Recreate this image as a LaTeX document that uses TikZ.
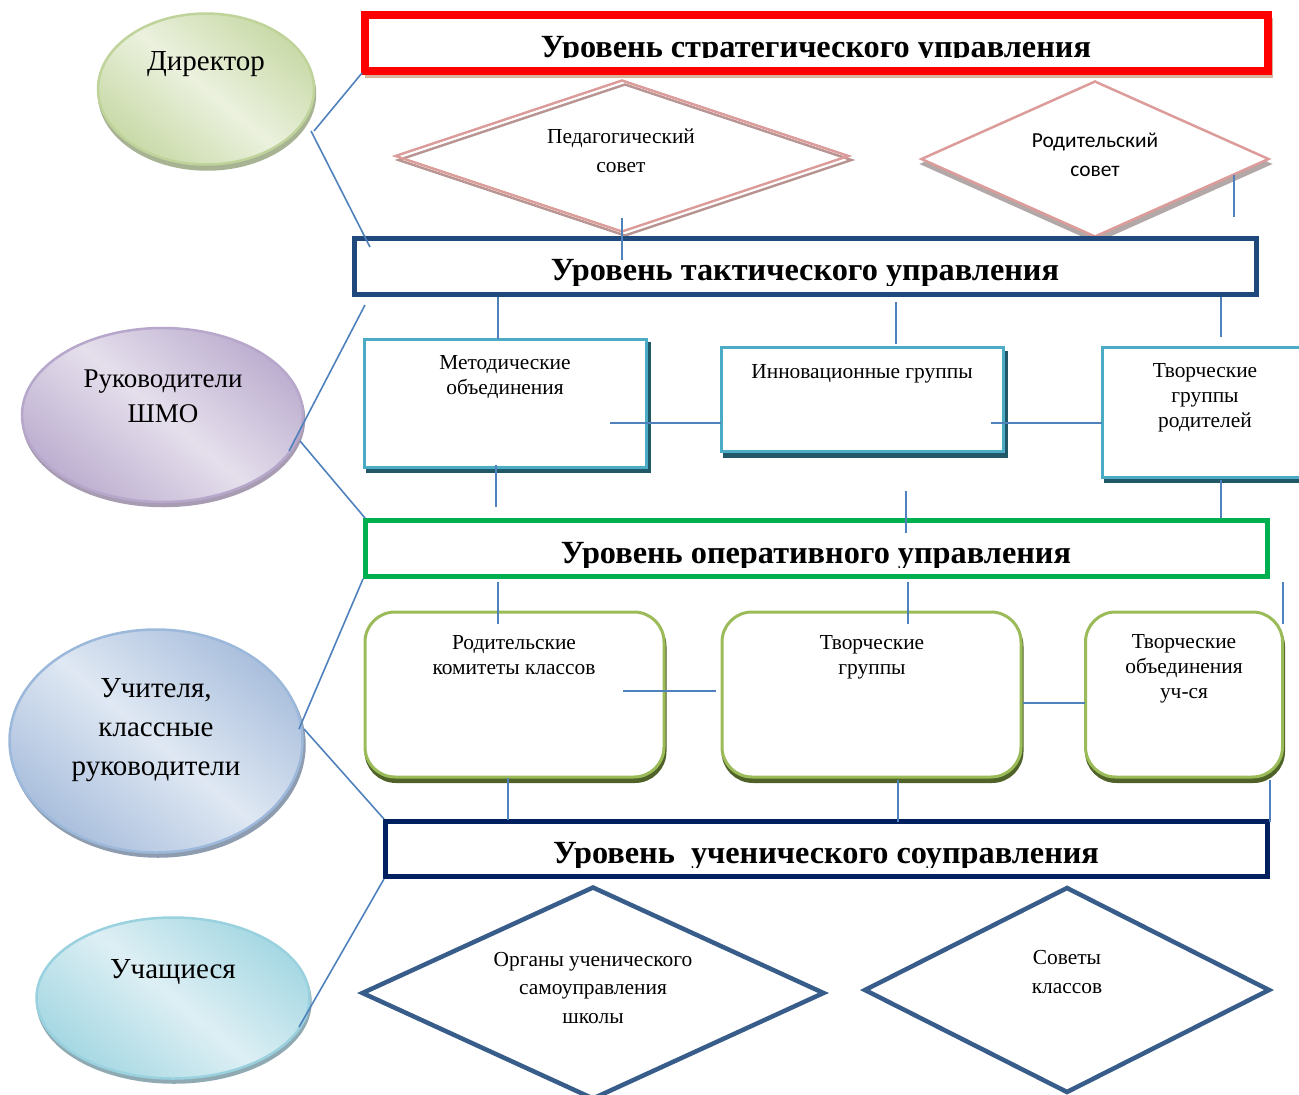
\documentclass[tikz,border=0pt]{standalone}
\usepackage{fontspec}
\setmainfont{Liberation Serif}
\newfontfamily\calibrifont{Carlito}
\usetikzlibrary{shapes.geometric}
\definecolor{linkblue}{HTML}{4F81BD}
\definecolor{tealline}{HTML}{4BACC6}
\definecolor{tealdark}{HTML}{215868}
\definecolor{greenline}{HTML}{9BBB59}
\definecolor{greendark}{HTML}{4F6228}
\definecolor{pinkline}{HTML}{DB9C9A}
\definecolor{rosegrey}{HTML}{B89492}
\definecolor{navydiamond}{HTML}{385D8A}
\definecolor{tacticalblue}{HTML}{1F497D}
\definecolor{opgreen}{HTML}{00B050}
\definecolor{navybar}{HTML}{002060}
\definecolor{tanshadow}{HTML}{D8B49C}
\definecolor{g1b}{HTML}{BFD39A}\definecolor{g1d}{HTML}{C9DAA8}\definecolor{g1l}{HTML}{EBF1DE}\definecolor{g1s}{HTML}{A8B394}
\definecolor{p1b}{HTML}{B7A7CB}\definecolor{p1d}{HTML}{BDAFD0}\definecolor{p1l}{HTML}{E5DFEC}\definecolor{p1s}{HTML}{A79CB2}
\definecolor{b1b}{HTML}{9CB8DA}\definecolor{b1d}{HTML}{AABFDD}\definecolor{b1l}{HTML}{DFE8F3}\definecolor{b1s}{HTML}{8E9CB0}
\definecolor{t1b}{HTML}{9AD1DF}\definecolor{t1d}{HTML}{A6D8E3}\definecolor{t1l}{HTML}{DDEFF4}\definecolor{t1s}{HTML}{8FAAB2}
\definecolor{pardshadow}{HTML}{B3A8A8}
\tikzset{
  x=1pt,y=-1pt,
  every node/.style={inner sep=0pt,outer sep=0pt,align=center,text=black},
  link/.style={draw=linkblue,line width=1.6pt},
  level/.style={draw=#1,line width=5pt,fill=white,shape=rectangle},
  title/.style={font=\fontsize{32.3}{36}\selectfont\bfseries},
  oval/.style={shape=ellipse},
  ovaltext/.style={font=\fontsize{29}{39}\selectfont},
  small/.style={font=\fontsize{21.4}{25}\selectfont},
  tealbox/.style={draw=tealline,line width=3pt,fill=white,shape=rectangle},
  tealshadow/.style={draw=tealdark,line width=3pt,fill=tealdark,shape=rectangle},
  greenbox/.style={draw=greenline,line width=3pt,fill=white,shape=rectangle,rounded corners=30pt},
  greenshadow/.style={draw=greendark,line width=3pt,fill=greendark,shape=rectangle,rounded corners=30pt},
  dia/.style={shape=diamond,fill=white},
  grad/.style n args={3}{shape=ellipse,draw=#1,line width=2.5pt,bottom color=#2,top color=#2,middle color=#3,shading angle=-40},
}
\begin{document}
\begin{tikzpicture}
\useasboundingbox (0,0) rectangle (1299,1095);
\clip (0,0) rectangle (1299,1095);
% ovals
\node[oval,draw=g1s,line width=2.5pt,fill=g1s,minimum width=216pt,minimum height=151pt] (s1) at (207,94) {};
\node[grad={g1b}{g1d}{g1l},minimum width=216pt,minimum height=151pt] (dir) at (206,89) {};
\node[ovaltext] (dirt) at (206,64) {Директор};
\node[oval,draw=p1s,line width=2.5pt,fill=p1s,minimum width=281pt,minimum height=174pt] (s2) at (163.5,419) {};
\node[grad={p1b}{p1d}{p1l},minimum width=281pt,minimum height=174pt] (ruk) at (162.5,415) {};
\node[font=\fontsize{27}{35}\selectfont] (rukt) at (163,396) {Руководители\\ШМО};
\node[oval,draw=b1s,line width=2.5pt,fill=b1s,minimum width=293pt,minimum height=223pt] (s3) at (158,745) {};
\node[grad={b1b}{b1d}{b1l},minimum width=293pt,minimum height=223pt] (uch) at (156,741) {};
\node[ovaltext] (ucht) at (156,730) {Учителя,\\классные\\руководители};
\node[oval,draw=t1s,line width=2.5pt,fill=t1s,minimum width=273pt,minimum height=161pt] (s4) at (174,1002) {};
\node[grad={t1b}{t1d}{t1l},minimum width=273pt,minimum height=161pt] (stu) at (173,998) {};
\node[ovaltext] (stut) at (173,972) {Учащиеся};
% top diamonds
\node[dia,draw=rosegrey,line width=2.5pt,minimum width=453pt,minimum height=151pt] (ped2) at (625,160) {};
\node[dia,draw=pinkline,line width=2.5pt,fill=none,minimum width=453pt,minimum height=151pt] (ped) at (622,156) {};
\node[small] (pedt) at (621,151) {Педагогический\\[4pt]совет};
\node[shape=diamond,draw=pardshadow,line width=2.5pt,fill=pardshadow,minimum width=347pt,minimum height=155pt] (par2) at (1096,164) {};
\node[dia,draw=pinkline,line width=2.5pt,minimum width=347pt,minimum height=155pt] (par) at (1095,159) {};
\node[font=\calibrifont\fontsize{21.4}{29}\selectfont] (part) at (1095,155) {Родительский\\совет};
% level boxes
\node[shape=rectangle,fill=tanshadow,minimum width=908pt,minimum height=60pt] (lev1s) at (819,48) {};
\node[level=red,line width=8pt,minimum width=903pt,minimum height=56pt] (lev1) at (816.5,43) {};
\begin{scope}
\clip (370,20) rectangle (1260,57.5);
\node[title] (lev1t) at (816,50) {Уровень стратегического управления};
\end{scope}
\node[level=tacticalblue,minimum width=902pt,minimum height=56pt] (lev2) at (805.5,266.5) {};
\begin{scope}
\clip (370,245) rectangle (1240,285.5);
\node[title] (lev2t) at (805,273) {Уровень тактического управления};
\end{scope}
\node[level=opgreen,minimum width=902pt,minimum height=56pt] (lev3) at (816.5,548.5) {};
\begin{scope}
\clip (370,525) rectangle (1260,567);
\node[title] (lev3t) at (816,556) {Уровень оперативного управления};
\end{scope}
\node[level=navybar,minimum width=882pt,minimum height=55pt] (lev4) at (826.5,849) {};
\begin{scope}
\clip (390,825) rectangle (1260,867);
\node[title] (lev4t) at (826,856) {Уровень\ \ ученического соуправления};
\end{scope}
% teal boxes
\node[tealshadow,minimum width=282pt,minimum height=128pt] (ms) at (508,407.5) {};
\node[tealbox,minimum width=282pt,minimum height=128pt] (met) at (505,403.5) {};
\node[small] (mett) at (505,377.5) {Методические\\объединения};
\node[tealshadow,minimum width=282pt,minimum height=104pt] (is) at (865,404) {};
\node[tealbox,minimum width=282pt,minimum height=104pt] (inn) at (862,399.5) {};
\node[small] (innt) at (862,374) {Инновационные группы};
\node[tealshadow,minimum width=200pt,minimum height=130pt] (ts) at (1205,416) {};
\node[tealbox,minimum width=200pt,minimum height=130pt] (tvr) at (1202,412.5) {};
\node[small] (tvrt) at (1205,398) {Творческие\\группы\\родителей};
% green boxes
\node[greenshadow,minimum width=299pt,minimum height=165pt] (gs1) at (515.5,699) {};
\node[greenbox,minimum width=299pt,minimum height=165pt] (rod) at (514.5,694.5) {};
\node[small] (rodt) at (514,655) {Родительские\\комитеты классов};
\node[greenshadow,minimum width=299pt,minimum height=165pt] (gs2) at (872.5,699) {};
\node[greenbox,minimum width=299pt,minimum height=165pt] (tgr) at (871.5,694.5) {};
\node[small] (tgrt) at (872,657) {Творческие\\группы};
\node[greenshadow,minimum width=197pt,minimum height=165pt] (gs3) at (1185,699) {};
\node[greenbox,minimum width=197pt,minimum height=165pt] (tob) at (1184,694.5) {};
\node[small] (tobt) at (1184,669) {Творческие\\объединения\\уч-ся};
% bottom diamonds
\node[dia,draw=navydiamond,line width=4.5pt,minimum width=461pt,minimum height=211pt] (org) at (593,993) {};
\node[small] (orgt) at (593,988) {Органы ученического\\[3.5pt]самоуправления\\[3.5pt]школы};
\node[dia,draw=navydiamond,line width=4.5pt,minimum width=404pt,minimum height=204pt] (sov) at (1067,990) {};
\node[small] (sovt) at (1067,972) {Советы\\[4pt]классов};
% free ends of connectors
\foreach \nm/\px/\py in {a1/362/73,a2/314/131,b1/311/131,b2/370/247,c1/365/305,c2/289/451,d1/300/441,d2/365/518,e1/363/579,e2/299/729,f1/304/729,f2/384/819,g1/384/879,g2/299/1027,
 h1/622/218,h2/622/260,i1/1234/175,i2/1234/217,j1/498/297,j2/498/339,k1/896/302,k2/896/344,l1/1221/297,l2/1221/337,m1/610/423,m2/721/423,n1/991/423,n2/1102/423,o1/496/465,o2/496/507,p1/906/491,p2/906/533,q1/1221/480,q2/1221/518,r1/498/582,r2/498/624,s1e/908/582,s2e/908/624,t1/1283/582,t2/1283/624,u1/623/691,u2/716/691,v1/1023/703,v2/1085/703,w1/508/778,w2/508/820,x1/898/780,x2/898/822,y1/1270/780,y2/1270/822}
  {\coordinate (\nm) at (\px,\py);}
\foreach \ca/\cb in {a1/a2,b1/b2,c1/c2,d1/d2,e1/e2,f1/f2,g1/g2,h1/h2,i1/i2,j1/j2,k1/k2,l1/l2,m1/m2,n1/n2,o1/o2,p1/p2,q1/q2,r1/r2,s1e/s2e,t1/t2,u1/u2,v1/v2,w1/w2,x1/x2,y1/y2}
  {\draw[link] (\ca) -- (\cb);}
\end{tikzpicture}
\end{document}
